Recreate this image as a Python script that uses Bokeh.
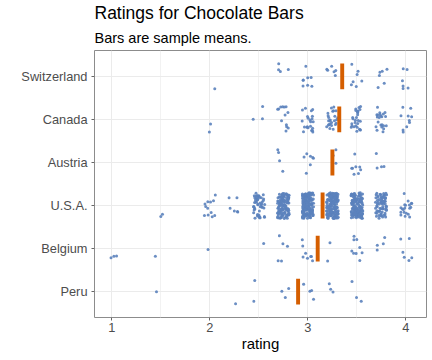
import numpy as np
from bokeh.plotting import figure
from bokeh.models import ColumnDataSource, FixedTicker, Title
from bokeh.embed import file_html
from bokeh.resources import INLINE

# ---- data ----
countries = ["Peru", "Belgium", "U.S.A.", "Austria", "Canada", "Switzerland"]
rating_levels = [1.0, 1.5, 2.0, 2.25, 2.5, 2.75, 3.0, 3.25, 3.5, 3.75, 4.0]
peru_counts = [0, 1, 0, 1, 2, 3, 4, 3, 3, 0, 0]
belgium_counts = [3, 1, 1, 0, 1, 5, 8, 2, 9, 4, 6]
usa_counts = [0, 2, 12, 6, 50, 119, 170, 170, 140, 75, 20]
austria_counts = [0, 0, 0, 0, 0, 4, 7, 3, 8, 4, 0]
canada_counts = [0, 0, 2, 0, 3, 13, 22, 25, 28, 22, 10]
swiss_counts = [0, 0, 1, 0, 0, 4, 8, 6, 7, 6, 6]
sample_means = [2.90, 3.10, 3.15, 3.25, 3.32, 3.35]
x_ticks = [1, 2, 3, 4]

count_table = [peru_counts, belgium_counts, usa_counts, austria_counts,
               canada_counts, swiss_counts]

# expand counts into individual ratings; positional jitter only (like geom_jitter)
rng = np.random.default_rng(11)
xs, ys = [], []
for ci, counts in enumerate(count_table):
    for lvl, n in zip(rating_levels, counts):
        for _ in range(n):
            xs.append(lvl + rng.uniform(-0.06, 0.06))
            ys.append(ci + 1 + rng.uniform(-0.3, 0.3))
pts = ColumnDataSource(dict(x=xs, y=ys))
means = ColumnDataSource(dict(x=sample_means, y=list(range(1, len(countries) + 1))))

FONT = "Liberation Sans"

p = figure(frame_width=332, frame_height=267,
           x_range=(0.823, 4.21), y_range=(0.4, 6.6),
           output_backend="svg", toolbar_location=None,
           min_border_left=94, min_border_right=1,
           min_border_top=20, min_border_bottom=20,
           background_fill_color="white", border_fill_color="white")

p.scatter("x", "y", source=pts, size=3, fill_color="#5b82bc",
          line_color=None, fill_alpha=0.9)
p.rect("x", "y", width=0.04, height=0.6, source=means,
       fill_color="#d55e00", line_color=None)

# titles
p.title.text = "Ratings for Chocolate Bars"
p.title.text_font = FONT
p.title.text_font_size = "17.5px"
p.title.text_font_style = "normal"
p.title.text_color = "black"
p.title.align = "left"
p.title.standoff = 0
p.add_layout(Title(text="Bars are sample means.", text_font=FONT,
                   text_font_size="14.5px", text_font_style="normal",
                   text_color="black", align="left", standoff=10), "above")

# axes
p.xaxis.ticker = FixedTicker(ticks=x_ticks, minor_ticks=[1.5, 2.5, 3.5])
p.yaxis.ticker = FixedTicker(ticks=list(range(1, len(countries) + 1)))
p.yaxis.major_label_overrides = {i + 1: c for i, c in enumerate(countries)}
p.xaxis.axis_label = "rating"
p.xaxis.axis_label_text_font = FONT
p.xaxis.axis_label_text_font_size = "15px"
p.xaxis.axis_label_text_font_style = "normal"
p.xaxis.axis_label_text_color = "black"
p.xaxis.axis_label_standoff = 0
for ax in (p.xaxis, p.yaxis):
    ax.axis_line_color = None
    ax.major_tick_line_color = "#666666"
    ax.major_tick_in = 0
    ax.major_tick_out = 3
    ax.minor_tick_line_color = None
    ax.major_label_text_font = FONT
    ax.major_label_text_font_size = "12.8px"
    ax.major_label_text_color = "#4d4d4d"
    ax.major_label_standoff = 4
p.xaxis.major_label_standoff = 1

p.xgrid.grid_line_color = "#ebebeb"
p.ygrid.grid_line_color = "#ebebeb"
p.xgrid.minor_grid_line_color = "#f2f2f2"
p.xgrid.grid_line_width = 1
p.ygrid.grid_line_width = 1
p.outline_line_color = "#8c8c8c"
p.outline_line_width = 1

open("out.html", "w").write(file_html(p, INLINE))
